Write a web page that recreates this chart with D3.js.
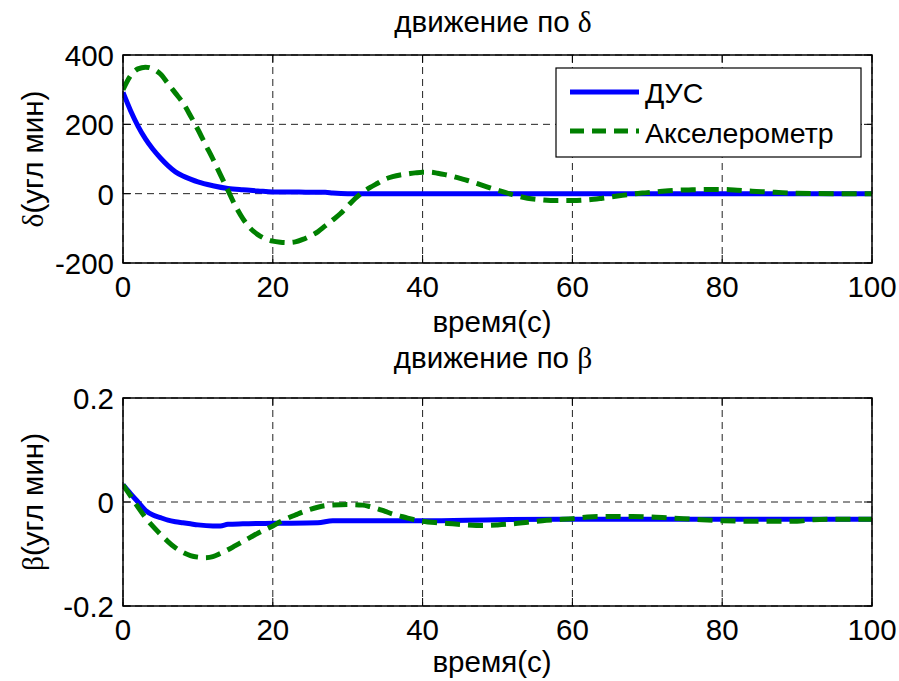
<!DOCTYPE html>
<html>
<head>
<meta charset="utf-8">
<script src="https://cdn.jsdelivr.net/npm/d3@7"></script>
<style>
  html, body { margin: 0; padding: 0; background: #fff; }
  svg { display: block; }
  text { font-family: "Liberation Sans", Arial, sans-serif; fill: #000; }
  .greek { font-family: "Liberation Serif", "DejaVu Serif", serif; }
</style>
</head>
<body>
<svg id="chart" width="899" height="681"></svg>
<script>
// ---------- DATA ----------
const xTicks = [0, 20, 40, 60, 80, 100];
const deltaTicks = [-200, 0, 200, 400];
const betaTicks = [-0.2, 0, 0.2];
const betaTickLabels = ["-0.2", "0", "0.2"];
const seriesNames = ["ДУС", "Акселерометр"];

const dusDeltaT = [0,1,2,3,4,5,6,7,8,9,10,12,14,16,18,20,22,25,27,28,30,40,50,60,70,80,90,100];
const dusDeltaV = [292,240,195,158,128,103,81,63,51,42,34,23,15,11,8,5,5,4,4,2,0,0,0,0,0,0,0,0];

const accDeltaT = [0,1,2,3,4,5,6,7,8,9,10,11,12,13,14,15,16,17,18,19,20,21,22,23,24,25,26,27,28,29,30,31,32,33,34,35,36,37,38,39,40,41,42,43,44,45,46,48,50,52,54,56,58,60,62,64,66,68,70,72,74,76,78,80,82,84,86,88,90,95,100];
const accDeltaV = [300,340,360,365,360,345,318,290,262,225,185,142,100,55,10,-35,-72,-100,-118,-130,-137,-140,-141,-139,-132,-122,-110,-93,-76,-58,-36,-14,4,18,30,42,49,54,57,60,62,62,59,55,50,44,38,24,10,-3,-13,-18,-20,-20,-18,-13,-7,-1,3,7,10,11,12,12,10,7,5,3,1,0,0];

const dusBetaT = [0,1,2,3,4,5,6,7,8,9,10,12,13,14,16,20,26,28,40,50,60,100];
const dusBetaV = [0.033,0.016,0,-0.016,-0.025,-0.030,-0.035,-0.038,-0.040,-0.042,-0.044,-0.046,-0.046,-0.043,-0.042,-0.041,-0.040,-0.036,-0.036,-0.034,-0.033,-0.033];

const accBetaT = [0,1,2,3,4,5,6,7,8,9,10,11,12,13,14,15,16,17,18,19,20,21,22,23,24,25,26,27,28,30,32,33,34,35,36,37,38,40,42,44,46,48,50,52,54,56,58,60,62,64,68,72,76,80,84,90,92,94,100];
const accBetaV = [0.033,0.012,-0.010,-0.030,-0.047,-0.062,-0.076,-0.088,-0.097,-0.103,-0.106,-0.107,-0.105,-0.099,-0.092,-0.084,-0.076,-0.068,-0.060,-0.053,-0.046,-0.038,-0.031,-0.025,-0.019,-0.014,-0.010,-0.007,-0.006,-0.005,-0.006,-0.009,-0.013,-0.018,-0.023,-0.027,-0.031,-0.037,-0.040,-0.042,-0.044,-0.045,-0.044,-0.042,-0.039,-0.036,-0.034,-0.032,-0.029,-0.028,-0.028,-0.030,-0.033,-0.036,-0.037,-0.037,-0.034,-0.033,-0.033];

// ---------- LAYOUT ----------
const svg = d3.select("#chart");
const L = 123, R = 872;
const FS = 29.5, FS_LEG = 28.5;
const BLUE = "#0000ff", GREEN = "#008000";

const panels = [
  { top: 55, bottom: 263, domain: [-200, 400], ticks: deltaTicks, tickLabels: deltaTicks.map(String),
    title: "движение по ", greek: "δ", ylab: "(угл мин)", titleY: 32,
    series: [[dusDeltaT, dusDeltaV], [accDeltaT, accDeltaV]], legend: true },
  { top: 398, bottom: 606, domain: [-0.2, 0.2], ticks: betaTicks, tickLabels: betaTickLabels,
    title: "движение по ", greek: "β", ylab: "(угл мин)", titleY: 368,
    series: [[dusBetaT, dusBetaV], [accBetaT, accBetaV]], legend: false }
];

const x = d3.scaleLinear().domain([0, 100]).range([L, R]);

panels.forEach((p, i) => {
  const y = d3.scaleLinear().domain(p.domain).range([p.bottom, p.top]);
  const g = svg.append("g");

  const clipId = "clip" + i;
  svg.append("clipPath").attr("id", clipId)
    .append("rect").attr("x", L).attr("y", p.top).attr("width", R - L).attr("height", p.bottom - p.top);

  // grid
  const grid = g.append("g").attr("stroke", "#222").attr("stroke-width", 1).attr("stroke-dasharray", "7,5");
  xTicks.forEach(t => {
    grid.append("line").attr("x1", x(t)).attr("x2", x(t)).attr("y1", p.top).attr("y2", p.bottom);
  });
  p.ticks.forEach(t => {
    grid.append("line").attr("x1", L).attr("x2", R).attr("y1", y(t)).attr("y2", y(t));
  });

  // tick marks (inside, both sides)
  const tk = g.append("g").attr("stroke", "#000").attr("stroke-width", 1);
  xTicks.forEach(t => {
    tk.append("line").attr("x1", x(t)).attr("x2", x(t)).attr("y1", p.bottom).attr("y2", p.bottom - 8);
    tk.append("line").attr("x1", x(t)).attr("x2", x(t)).attr("y1", p.top).attr("y2", p.top + 8);
  });
  p.ticks.forEach(t => {
    tk.append("line").attr("x1", L).attr("x2", L + 8).attr("y1", y(t)).attr("y2", y(t));
    tk.append("line").attr("x1", R).attr("x2", R - 8).attr("y1", y(t)).attr("y2", y(t));
  });

  // lines
  const lineGen = d3.line().x(d => x(d[0])).y(d => y(d[1])).curve(d3.curveMonotoneX);
  const lg = g.append("g").attr("clip-path", `url(#${clipId})`);
  p.series.forEach((s, k) => {
    const pts = s[0].map((t, j) => [t, s[1][j]]);
    lg.append("path").datum(pts).attr("d", lineGen)
      .attr("fill", "none")
      .attr("stroke", k === 0 ? BLUE : GREEN)
      .attr("stroke-width", 5)
      .attr("stroke-linejoin", "round")
      .attr("stroke-dasharray", k === 0 ? null : "15,8");
  });

  // box
  g.append("rect").attr("x", L).attr("y", p.top).attr("width", R - L).attr("height", p.bottom - p.top)
    .attr("fill", "none").attr("stroke", "#000").attr("stroke-width", 1.5);

  // tick labels
  xTicks.forEach(t => {
    g.append("text").attr("x", x(t)).attr("y", p.bottom + 34).attr("text-anchor", "middle")
      .attr("font-size", FS).text(String(t));
  });
  p.ticks.forEach((t, j) => {
    g.append("text").attr("x", 114).attr("y", y(t) + 11).attr("text-anchor", "end")
      .attr("font-size", FS).text(p.tickLabels[j]);
  });

  // x label
  g.append("text").attr("x", 492).attr("y", p.bottom + (i === 0 ? 69 : 66)).attr("text-anchor", "middle")
    .attr("font-size", FS).text("время(с)");

  // title
  const tt = g.append("text").attr("x", 493).attr("y", p.titleY).attr("text-anchor", "middle").attr("font-size", FS);
  tt.append("tspan").text(p.title);
  tt.append("tspan").attr("class", "greek").text(p.greek);

  // y label
  const cy = (p.top + p.bottom) / 2;
  const yl = g.append("text").attr("transform", `translate(43,${cy}) rotate(-90)`)
    .attr("text-anchor", "middle").attr("font-size", FS);
  yl.append("tspan").attr("class", "greek").text(p.greek);
  yl.append("tspan").text(p.ylab);

  // legend
  if (p.legend) {
    const lgd = g.append("g");
    lgd.append("rect").attr("x", 556).attr("y", 68).attr("width", 305).attr("height", 89)
      .attr("fill", "#fff").attr("stroke", "#000").attr("stroke-width", 1.2);
    [92, 131].forEach((ly, k) => {
      lgd.append("line").attr("x1", 570).attr("x2", 639).attr("y1", ly).attr("y2", ly)
        .attr("stroke", k === 0 ? BLUE : GREEN).attr("stroke-width", 5)
        .attr("stroke-dasharray", k === 0 ? null : "14,8");
      lgd.append("text").attr("x", 645).attr("y", ly + (k === 0 ? 11 : 12)).attr("font-size", FS_LEG)
        .text(seriesNames[k]);
    });
  }
});
</script>
</body>
</html>
